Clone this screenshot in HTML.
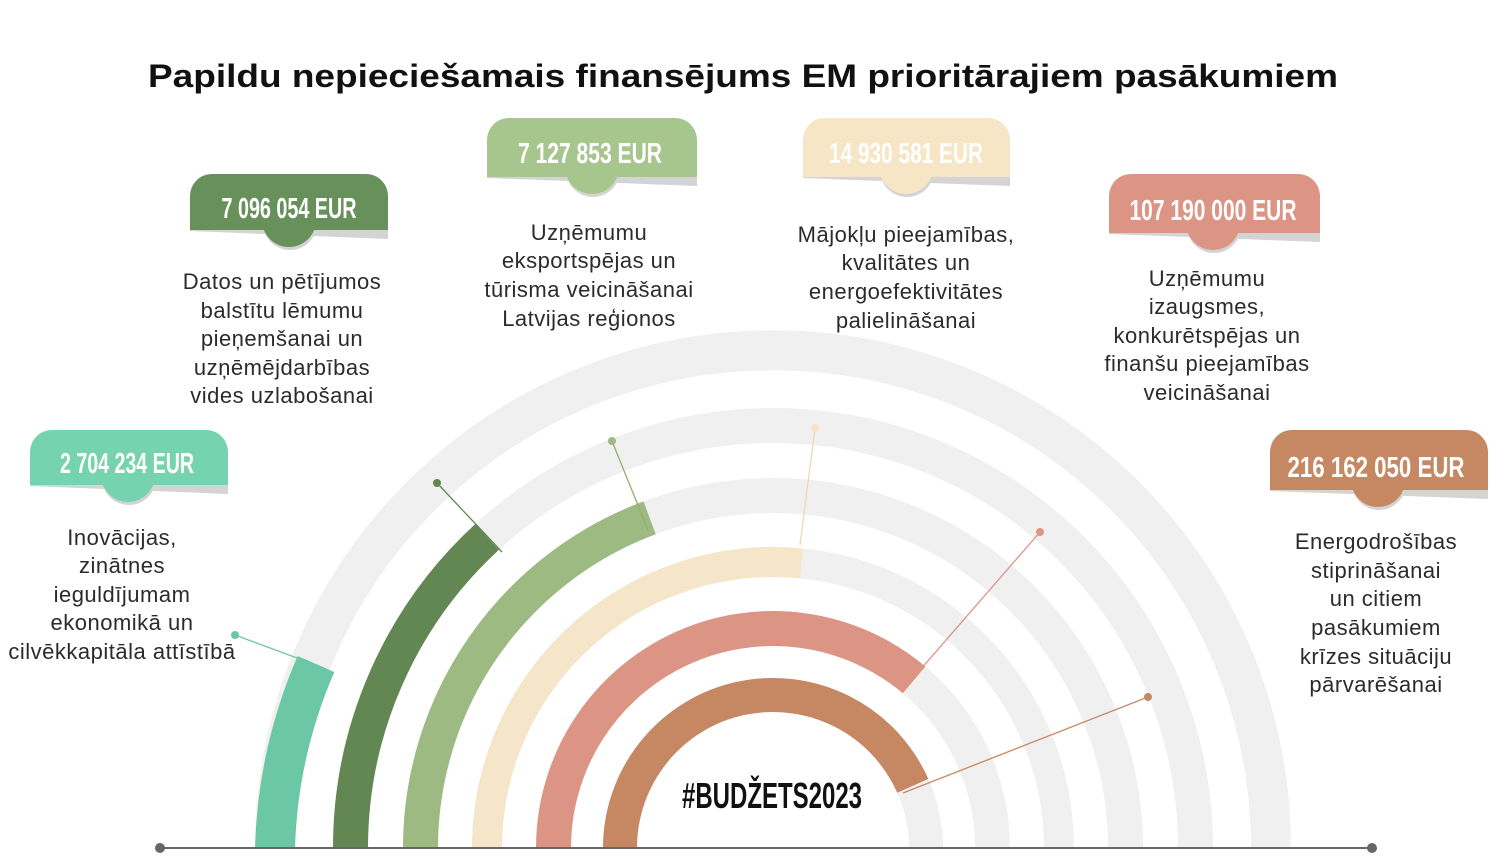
<!DOCTYPE html>
<html><head><meta charset="utf-8"><style>
html,body{margin:0;padding:0;background:#fff;}
svg{display:block;}
.t{font-family:"Liberation Sans",sans-serif;font-size:22px;fill:#2b2b2b;text-anchor:middle;letter-spacing:0.5px;}
.b{font-family:"Liberation Sans Narrow","Liberation Sans",sans-serif;font-size:29px;font-weight:bold;fill:#fff;text-anchor:middle;}
</style></head><body>
<svg width="1500" height="860" viewBox="0 0 1500 860" xmlns="http://www.w3.org/2000/svg">
<text x="743" y="87" textLength="1190" lengthAdjust="spacingAndGlyphs" style="font-family:'Liberation Sans',sans-serif;font-weight:bold;font-size:32px;text-anchor:middle;fill:#111">Papildu nepieciešamais finansējums EM prioritārajiem pasākumiem</text>

<g fill="none" stroke="#f0f0f0">
<path d="M275 848 A498 498 0 0 1 1271 848" stroke-width="40"/>
<path d="M350.5 848 A422.5 422.5 0 0 1 1195.5 848" stroke-width="35"/>
<path d="M420.5 848 A352.5 352.5 0 0 1 1125.5 848" stroke-width="35"/>
<path d="M487 848 A286 286 0 0 1 1059 848" stroke-width="30"/>
<path d="M553.5 848 A219.5 219.5 0 0 1 992.5 848" stroke-width="35"/>
<path d="M620 848 A153 153 0 0 1 926 848" stroke-width="34"/>
</g>
<g fill="none">
<path d="M275 848 A498 498 0 0 1 316 664" stroke="#6cc7a6" stroke-width="40"/>
<path d="M350.5 848 A422.5 422.5 0 0 1 487 537" stroke="#628753" stroke-width="35"/>
<path d="M420.5 848 A352.5 352.5 0 0 1 649.6 517.8" stroke="#9dba82" stroke-width="35"/>
<path d="M487 848 A286 286 0 0 1 801.4 563.4" stroke="#f5e6c9" stroke-width="30"/>
<path d="M553.5 848 A219.5 219.5 0 0 1 914.1 679.9" stroke="#dc9585" stroke-width="35"/>
<path d="M620 848 A153 153 0 0 1 912.8 785.8" stroke="#c68763" stroke-width="34"/>
</g>
<g stroke-width="1.3">
<line x1="235" y1="635" x2="324" y2="668" stroke="#6cc7a6"/><circle cx="235" cy="635" r="4" fill="#6cc7a6"/>
<line x1="437" y1="483" x2="502" y2="552" stroke="#628753"/><circle cx="437" cy="483" r="4" fill="#628753"/>
<line x1="612" y1="441" x2="648" y2="530" stroke="#8fb070"/><circle cx="612" cy="441" r="4" fill="#9dba82"/>
<line x1="815" y1="428" x2="800" y2="545" stroke="#f0d9b0"/><circle cx="815" cy="428" r="4" fill="#f5e6c9"/>
<line x1="1040" y1="532" x2="907" y2="685" stroke="#dc9585"/><circle cx="1040" cy="532" r="4" fill="#dc9585"/>
<line x1="1148" y1="697" x2="903" y2="793" stroke="#c68763"/><circle cx="1148" cy="697" r="4" fill="#c68763"/>
</g>
<line x1="160" y1="848" x2="1372" y2="848" stroke="#666" stroke-width="2"/>
<circle cx="160" cy="848" r="5" fill="#666"/><circle cx="1372" cy="848" r="5" fill="#666"/>
<text x="772" y="808" textLength="180" lengthAdjust="spacingAndGlyphs" style="font-family:'Liberation Sans Narrow','Liberation Sans',sans-serif;font-weight:bold;font-size:36px;text-anchor:middle;fill:#111">#BUDŽETS2023</text>

<g>
<polygon points="30,485 228,485 228,494 30,486" fill="#d4d4d4"/><circle cx="129" cy="478" r="27" fill="#d4d4d4"/>
<path d="M30 485 V452 A22 22 0 0 1 52 430 H206 A22 22 0 0 1 228 452 V485 Z" fill="#76d3b0"/><circle cx="128" cy="475" r="27" fill="#76d3b0"/>
<text class="b" x="127" y="473" textLength="134" lengthAdjust="spacingAndGlyphs">2 704 234 EUR</text>

<polygon points="190,230 388,230 388,239 190,231" fill="#d4d4d4"/><circle cx="290" cy="223" r="27" fill="#d4d4d4"/>
<path d="M190 230 V196 A22 22 0 0 1 212 174 H366 A22 22 0 0 1 388 196 V230 Z" fill="#67905a"/><circle cx="289" cy="220" r="27" fill="#67905a"/>
<text class="b" x="289" y="218" textLength="135" lengthAdjust="spacingAndGlyphs">7 096 054 EUR</text>

<polygon points="487,177 697,177 697,186 487,178" fill="#d4d4d4"/><circle cx="593" cy="170" r="27" fill="#d4d4d4"/>
<path d="M487 177 V140 A22 22 0 0 1 509 118 H675 A22 22 0 0 1 697 140 V177 Z" fill="#a7c68e"/><circle cx="592" cy="167" r="27" fill="#a7c68e"/>
<text class="b" x="590" y="163" textLength="144" lengthAdjust="spacingAndGlyphs">7 127 853 EUR</text>

<polygon points="803,177 1010,177 1010,186 803,178" fill="#d4d4d4"/><circle cx="907" cy="170" r="27" fill="#d4d4d4"/>
<path d="M803 177 V140 A22 22 0 0 1 825 118 H988 A22 22 0 0 1 1010 140 V177 Z" fill="#f6e6c6"/><circle cx="906" cy="167" r="27" fill="#f6e6c6"/>
<text class="b" x="906" y="163" textLength="154" lengthAdjust="spacingAndGlyphs">14 930 581 EUR</text>

<polygon points="1109,233 1320,233 1320,242 1109,234" fill="#d4d4d4"/><circle cx="1214" cy="226" r="27" fill="#d4d4d4"/>
<path d="M1109 233 V196 A22 22 0 0 1 1131 174 H1298 A22 22 0 0 1 1320 196 V233 Z" fill="#dc9585"/><circle cx="1213" cy="223" r="27" fill="#dc9585"/>
<text class="b" x="1213" y="220" textLength="167" lengthAdjust="spacingAndGlyphs">107 190 000 EUR</text>

<polygon points="1270,490 1488,490 1488,499 1270,491" fill="#d4d4d4"/><circle cx="1379" cy="483" r="27" fill="#d4d4d4"/>
<path d="M1270 490 V452 A22 22 0 0 1 1292 430 H1466 A22 22 0 0 1 1488 452 V490 Z" fill="#c68763"/><circle cx="1378" cy="480" r="27" fill="#c68763"/>
<text class="b" x="1376" y="477" textLength="177" lengthAdjust="spacingAndGlyphs">216 162 050 EUR</text>
</g>

<text class="t"><tspan x="122" y="545">Inovācijas,</tspan><tspan x="122" y="573">zinātnes</tspan><tspan x="122" y="602">ieguldījumam</tspan><tspan x="122" y="630">ekonomikā un</tspan><tspan x="122" y="659">cilvēkkapitāla attīstībā</tspan></text>
<text class="t"><tspan x="282" y="289">Datos un pētījumos</tspan><tspan x="282" y="318">balstītu lēmumu</tspan><tspan x="282" y="346">pieņemšanai un</tspan><tspan x="282" y="375">uzņēmējdarbības</tspan><tspan x="282" y="403">vides uzlabošanai</tspan></text>
<text class="t"><tspan x="589" y="240">Uzņēmumu</tspan><tspan x="589" y="268">eksportspējas un</tspan><tspan x="589" y="297">tūrisma veicināšanai</tspan><tspan x="589" y="326">Latvijas reģionos</tspan></text>
<text class="t"><tspan x="906" y="242">Mājokļu pieejamības,</tspan><tspan x="906" y="270">kvalitātes un</tspan><tspan x="906" y="299">energoefektivitātes</tspan><tspan x="906" y="328">palielināšanai</tspan></text>
<text class="t"><tspan x="1207" y="286">Uzņēmumu</tspan><tspan x="1207" y="314">izaugsmes,</tspan><tspan x="1207" y="343">konkurētspējas un</tspan><tspan x="1207" y="371">finanšu pieejamības</tspan><tspan x="1207" y="400">veicināšanai</tspan></text>
<text class="t"><tspan x="1376" y="549">Energodrošības</tspan><tspan x="1376" y="578">stiprināšanai</tspan><tspan x="1376" y="606">un citiem</tspan><tspan x="1376" y="635">pasākumiem</tspan><tspan x="1376" y="664">krīzes situāciju</tspan><tspan x="1376" y="692">pārvarēšanai</tspan></text>
</svg>
</body></html>
